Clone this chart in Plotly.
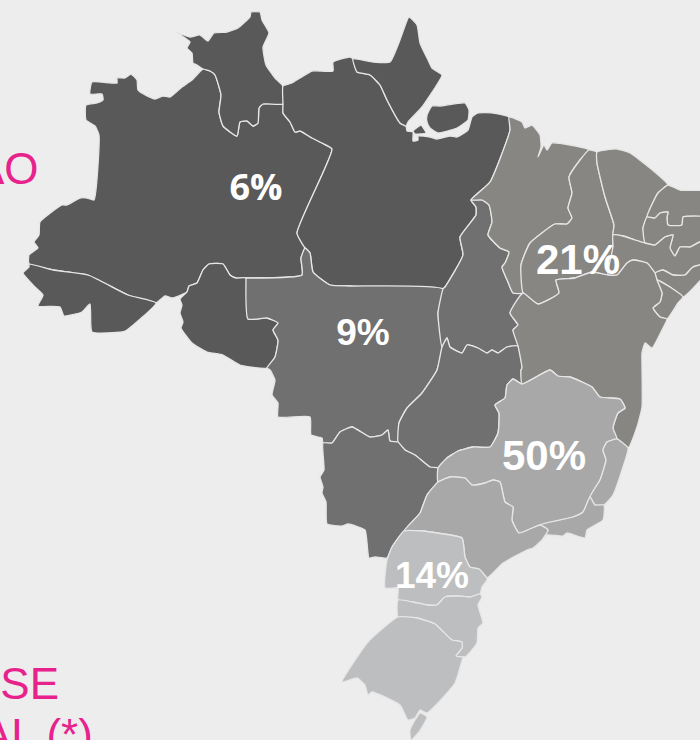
import plotly.graph_objects as go

# Region shares
REGION_VALUES = ["6%", "9%", "21%", "50%", "14%"]
LABEL_X = [256, 363, 578, 544, 432]
LABEL_Y = [191, 336, 263, 459, 579]
LABEL_SIZE = [36, 37, 42, 42, 37]
LABEL_FONT = ["Open Sans", "Liberation Sans", "Liberation Sans", "Liberation Sans", "Liberation Sans"]

NORTE = "#595959"
CENTRO = "#707070"
NORDESTE = "#878683"
SUDESTE = "#a8a8a8"
SUL = "#bdbec0"
PINK = "#e8228c"
BACKGROUND = "#ededed"

AM = [(203,69),(192,80),(182,87),(170,97),(163,96),(155,99),(147,96),(138,90),(137,80),(131,74),(125,78),(117,78),(117,83),(92,82),(90,94),(102,94),(103,100),(97,103),(86,105),(86,120),(95,126),(99,135),(94,200),(87,198),(80,198),(67,205),(62,205),(40,222),(39,235),(34,242),(38,248),(29,255),(29,264),(53,270),(88,275),(128,295),(156,303),(165,296),(173,298),(187,292),(189,286),(197,283),(203,270),(209,264),(223,264),(230,275),(236,278),(246,278),(302,275),(301,258),(305,248),(297,233),(332,149),(322,143),(312,138),(300,131),(295,132),(290,122),(283,113),(283,104),(263,104),(259,108),(258,123),(253,126),(247,121),(240,122),(237,136),(223,126),(219,112),(221,95),(215,75),(210,71)]
RR = [(203,69),(197,65),(193,63),(192,53),(187,48),(190,42),(176,32),(176,32),(190,37),(200,35),(208,41),(214,33),(227,32),(238,28),(250,17),(251,12),(260,12),(262,20),(269,33),(263,47),(266,65),(275,78),(283,86),(283,104),(263,104),(259,108),(258,123),(253,126),(247,121),(240,122),(237,136),(223,126),(219,112),(221,95),(215,75),(210,71)]
AC = [(29,264),(53,270),(88,275),(128,295),(156,303),(127,330),(122,332),(92,332),(90,304),(82,312),(64,316),(60,307),(38,306),(43,295),(35,287),(23,273),(29,267)]
RO = [(246,278),(236,278),(230,275),(223,264),(209,264),(203,270),(197,283),(189,286),(187,292),(180,299),(182,305),(180,313),(183,322),(181,328),(192,343),(207,352),(223,355),(240,365),(267,368),(275,357),(278,340),(273,330),(278,323),(267,318),(248,319)]
MT = [(246,278),(246,278),(302,275),(301,258),(305,248),(310,253),(313,272),(330,285),(350,286),(443,289),(438,313),(442,347),(437,370),(422,393),(407,408),(399,423),(398,442),(390,441),(388,430),(382,435),(370,437),(352,427),(340,432),(332,443),(323,443),(322,438),(311,435),(310,417),(278,417),(278,403),(272,395),(275,380),(270,370),(267,368),(275,357),(278,340),(273,330),(278,323),(267,318),(248,319)]
PA = [(283,86),(292,83),(300,78),(312,71),(333,71),(333,62),(350,57),(353,59),(357,72),(370,75),(380,85),(387,100),(400,123),(406,126),(407,131),(413,132),(413,141),(418,140),(418,136),(430,137),(437,139),(450,136),(457,137),(468,130),(472,117),(478,113),(493,113),(509,117),(510,130),(490,182),(471,200),(476,207),(476,215),(460,237),(463,255),(445,287),(443,289),(350,286),(330,285),(313,272),(310,253),(305,248),(297,233),(332,149),(322,143),(312,138),(300,131),(295,132),(290,122),(283,113),(283,104)]
ISLET = [(413,131),(421,125),(426,133),(415,134)]
MARAJO = [(427,115),(432,106),(440,106),(465,103),(469,110),(468,120),(457,128),(438,133),(430,128),(427,122)]
AP = [(353,59),(373,62),(390,62),(400,40),(409,17),(417,25),(420,43),(428,60),(432,68),(442,75),(438,83),(422,107),(408,122),(406,126),(400,123),(387,100),(380,85),(370,75),(357,72)]
TO = [(471,200),(482,200),(489,205),(492,222),(488,235),(500,248),(509,252),(505,263),(502,267),(508,282),(513,293),(522,293),(510,313),(518,325),(513,330),(518,346),(507,347),(498,353),(492,350),(487,353),(478,348),(467,345),(462,353),(450,347),(447,338),(442,347),(438,313),(443,289),(445,287),(463,255),(460,237),(476,215),(476,207)]
GO = [(442,347),(447,338),(450,347),(462,353),(467,345),(478,348),(487,353),(492,350),(498,353),(507,347),(518,346),(522,368),(521,370),(522,384),(513,379),(507,385),(505,398),(495,405),(499,413),(498,433),(490,447),(473,447),(458,451),(447,458),(438,468),(430,467),(415,455),(405,450),(398,442),(399,423),(407,408),(422,393),(437,370)]
MS = [(323,443),(332,443),(340,432),(352,427),(370,437),(382,435),(388,430),(390,441),(398,442),(405,450),(415,455),(430,467),(438,468),(438,482),(427,495),(420,513),(405,530),(392,547),(387,558),(375,557),(369,558),(365,530),(348,524),(342,526),(327,524),(326,502),(322,493),(323,487),(320,477),(324,470)]
MG = [(522,384),(550,370),(558,376),(570,377),(592,387),(600,397),(620,399),(625,408),(618,413),(613,428),(617,439),(607,442),(603,450),(606,460),(600,480),(590,497),(583,512),(573,517),(540,525),(519,533),(512,520),(513,507),(505,502),(500,482),(493,480),(485,483),(472,485),(465,478),(450,477),(438,482),(438,468),(447,458),(458,451),(473,447),(490,447),(498,433),(499,413),(495,405),(505,398),(507,385),(513,379)]
ES = [(617,439),(628,448),(622,470),(613,495),(604,505),(595,505),(590,497),(600,480),(606,460),(603,450),(607,442)]
RJ = [(590,497),(595,505),(604,505),(603,520),(587,530),(585,538),(567,533),(563,536),(547,535),(542,540),(548,530),(540,525),(573,517),(583,512)]
SP = [(438,482),(450,477),(465,478),(472,485),(485,483),(493,480),(500,482),(505,502),(513,507),(512,520),(519,533),(540,525),(548,530),(542,540),(533,548),(527,550),(503,563),(487,578),(479,569),(470,567),(465,557),(462,538),(437,533),(423,531),(404,531),(420,513),(427,495)]
PR = [(404,531),(423,531),(437,533),(462,538),(465,557),(470,567),(479,569),(487,578),(487,580),(482,587),(480,594),(470,597),(458,596),(445,597),(437,605),(427,605),(413,602),(398,600),(398,588),(385,588),(387,560),(392,547)]
SC = [(398,600),(413,602),(427,605),(437,605),(445,597),(458,596),(470,597),(480,594),(482,597),(478,605),(483,623),(478,628),(477,643),(465,657),(456,656),(462,648),(462,642),(452,640),(435,624),(417,618),(398,617)]
RS = [(398,617),(417,618),(435,624),(452,640),(462,642),(462,648),(456,656),(465,657),(463,658),(455,683),(427,713),(420,710),(415,718),(408,720),(400,705),(372,692),(368,695),(365,685),(357,678),(342,682),(368,642)]
RS_TAIL = [(420,713),(427,717),(419,732),(411,740),(410,730)]
MA = [(509,117),(522,122),(525,128),(532,125),(540,135),(541,147),(538,157),(544,145),(547,150),(552,143),(570,145),(589,150),(580,160),(569,177),(572,193),(568,208),(572,218),(567,224),(555,224),(530,243),(521,265),(523,293),(513,293),(508,282),(502,267),(505,263),(509,252),(500,248),(488,235),(492,222),(489,205),(482,200),(471,200),(490,182),(510,130)]
PI = [(589,150),(597,152),(597,163),(605,197),(614,225),(613,235),(613,247),(608,275),(592,272),(575,278),(556,280),(559,293),(538,304),(523,293),(521,265),(530,243),(555,224),(567,224),(572,218),(568,208),(572,193),(569,177),(580,160)]
CE = [(597,152),(617,149),(630,153),(650,168),(668,185),(658,193),(647,217),(643,228),(645,243),(635,240),(623,236),(613,235),(614,225),(605,197),(597,163)]
RN = [(668,185),(680,190),(715,192),(715,218),(683,217),(682,225),(668,225),(667,217),(668,212),(660,213),(655,218),(647,217),(658,193)]
PB = [(647,217),(655,218),(660,213),(668,212),(667,217),(668,225),(682,225),(683,217),(715,218),(715,242),(700,242),(690,247),(680,247),(675,256),(670,248),(673,235),(665,237),(655,245),(645,243),(643,228)]
PE = [(613,235),(623,236),(635,240),(645,243),(655,245),(665,237),(673,235),(670,248),(675,256),(680,247),(690,247),(700,242),(715,242),(715,262),(693,267),(685,275),(673,275),(663,270),(655,273),(647,263),(633,260),(627,263),(617,275),(608,275),(613,247)]
AL = [(655,273),(663,270),(673,275),(685,275),(693,267),(715,262),(683,297),(670,287),(657,280)]
SE = [(657,280),(670,287),(683,297),(678,303),(667,319),(660,317),(653,308),(660,302),(662,293)]
BA = [(523,293),(538,304),(559,293),(556,280),(575,278),(592,272),(608,275),(617,275),(627,263),(633,260),(647,263),(655,273),(657,280),(662,293),(660,302),(653,308),(660,317),(667,319),(662,330),(652,348),(645,343),(642,353),(642,367),(642,407),(637,427),(628,448),(617,439),(613,428),(618,413),(625,408),(620,399),(600,397),(592,387),(570,377),(558,376),(550,370),(522,384),(521,370),(522,368),(518,346),(513,330),(518,325),(510,313)]

REGIONS = [
    (NORTE, [AM, RR, AC, RO, PA, ISLET, MARAJO, AP]),
    (CENTRO, [MT, TO, GO, MS]),
    (NORDESTE, [MA, PI, CE, RN, PB, PE, AL, SE, BA]),
    (SUDESTE, [MG, ES, RJ, SP]),
    (SUL, [PR, SC, RS, RS_TAIL]),
]

fig = go.Figure()
for color, states in REGIONS:
    for st in states:
        xs = [p[0] for p in st] + [st[0][0]]
        ys = [p[1] for p in st] + [st[0][1]]
        fig.add_trace(go.Scatter(x=xs, y=ys, mode="lines", fill="toself", fillcolor=color,
                                 line=dict(color="#e6e6e6", width=1.3, shape="spline", smoothing=0.45),
                                 hoverinfo="skip", showlegend=False))

fig.add_trace(go.Scatter(x=LABEL_X, y=LABEL_Y, mode="text", text=REGION_VALUES,
                         textposition="middle center",
                         texttemplate="<b>%{text}</b>",
                         textfont=dict(color="white", size=LABEL_SIZE, family=LABEL_FONT),
                         hoverinfo="skip", showlegend=False))

for txt, x, y, s in [("AO", 41, 168, 44), ("SSE", 61, 683, 44), ("AL (*)", 95, 734, 44)]:
    fig.add_annotation(x=x, y=y, xref="x", yref="y", text=txt, showarrow=False, xanchor="right",
                       yanchor="middle", font=dict(color=PINK, size=s, family="Liberation Sans"))

fig.update_xaxes(visible=False, range=[0, 700], fixedrange=True)
fig.update_yaxes(visible=False, range=[740, 0], fixedrange=True)
fig.update_layout(width=700, height=740, margin=dict(l=0, r=0, t=0, b=0),
                  paper_bgcolor=BACKGROUND, plot_bgcolor=BACKGROUND)
fig.write_html("out.html", config={"displayModeBar": False},
               post_script="document.body.style.margin='0';document.body.style.background='#ededed';")
